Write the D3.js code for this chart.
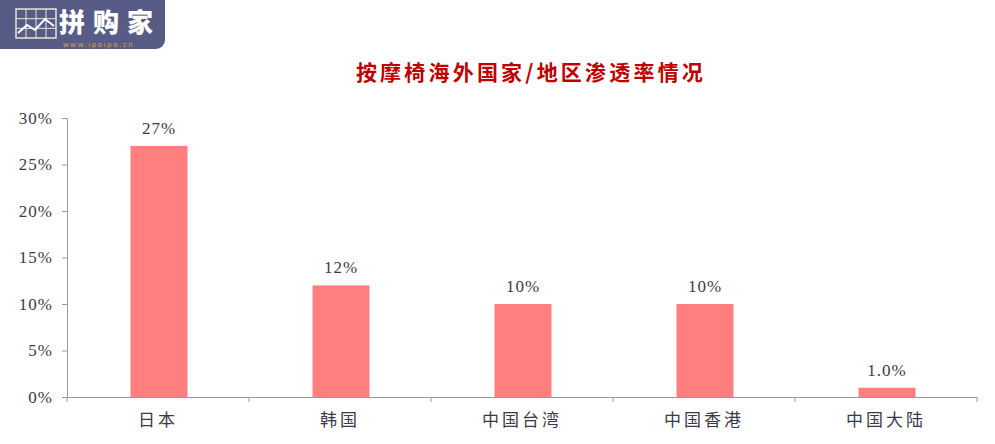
<!DOCTYPE html>
<html><head><meta charset="utf-8">
<script src="https://cdn.jsdelivr.net/npm/d3@7"></script>
<style>body{margin:0;background:#fff}svg{display:block}</style>
</head><body>
<svg id="c" width="995" height="444"></svg>
<script>
const categories = ["日本","韩国","中国台湾","中国香港","中国大陆"];
const values = [0.27, 0.12, 0.10, 0.10, 0.01];
const valueLabels = ["27%","12%","10%","10%","1.0%"];
const yTicks = [0,0.05,0.10,0.15,0.20,0.25,0.30];
const titleText = "按摩椅海外国家/地区渗透率情况";

const svg = d3.select("#c");
const W = 995, H = 444;
const m = {left: 67, right: 18, top: 118, bottom: 47};
const x = d3.scaleBand().domain(categories).range([m.left, W - m.right]).paddingInner(0).paddingOuter(0);
const y = d3.scaleLinear().domain([0, 0.30]).range([H - m.bottom, m.top]);
const serif = "'Liberation Serif','DejaVu Serif',serif";
const cjk = "'Noto Sans CJK SC','Noto Sans',sans-serif";
const textCol = "#3a3a4a";

// logo
const logo = svg.append("g");
logo.append("rect").attr("x",-10).attr("y",-10).attr("width",175).attr("height",59).attr("rx",9).attr("fill","#575c86");
const gx = 16, gy = 9, gw = 40, gh = 29;
logo.append("rect").attr("x",gx).attr("y",gy).attr("width",gw).attr("height",gh).attr("fill","none").attr("stroke","#e8e4d0").attr("stroke-width",1.5);
[1,2,3].forEach(i=>logo.append("line").attr("x1",gx+gw*i/4).attr("x2",gx+gw*i/4).attr("y1",gy).attr("y2",gy+gh).attr("stroke","#e8e4d0").attr("stroke-width",1));
[1,2].forEach(i=>logo.append("line").attr("x1",gx).attr("x2",gx+gw).attr("y1",gy+gh*i/3).attr("y2",gy+gh*i/3).attr("stroke","#e8e4d0").attr("stroke-width",1));
logo.append("polyline").attr("points",`${gx+2},${gy+24} ${gx+11},${gy+16} ${gx+19},${gy+21} ${gx+29},${gy+10} ${gx+38},${gy+17}`).attr("fill","none").attr("stroke","#fff").attr("stroke-width",2);
logo.append("text").attr("x",59).attr("y",32).attr("font-family",cjk).attr("font-weight",900).attr("font-size",26).attr("letter-spacing",8).attr("fill","#fff").text("拼购家");
logo.append("text").attr("x",63).attr("y",47).attr("font-family","'DejaVu Sans',sans-serif").attr("font-size",7).attr("letter-spacing",1.6).attr("fill","#e0a050").text("www.ipoipo.cn");

// title
svg.append("text").attr("x",531).attr("y",80).attr("text-anchor","middle")
  .attr("font-family","'Noto Sans CJK SC',sans-serif").attr("font-weight",700).attr("font-size",21)
  .attr("letter-spacing",3.2).attr("fill","#c00000").text(titleText);

// bars
const bw = 57;
svg.append("g").selectAll("rect").data(values).join("rect")
  .attr("x",(d,i)=>x(categories[i]) + x.bandwidth()/2 - bw/2 + 1)
  .attr("width",bw)
  .attr("y",d=>y(d)).attr("height",d=>y(0)-y(d)).attr("fill","#ff7f7f");

// value labels
svg.append("g").selectAll("text").data(values).join("text")
  .attr("x",(d,i)=>x(categories[i]) + x.bandwidth()/2 + 1)
  .attr("y",d=>y(d)-12).attr("text-anchor","middle")
  .attr("font-family",serif).attr("font-size",17).attr("letter-spacing",1).attr("fill",textCol)
  .text((d,i)=>valueLabels[i]);

// y axis
const ya = svg.append("g").attr("transform",`translate(${m.left},0)`)
  .call(d3.axisLeft(y).tickValues(yTicks).tickFormat(d=>Math.round(d*100)+"%").tickSize(5).tickPadding(9));
ya.select(".domain").attr("stroke","#999");
ya.selectAll(".tick line").attr("stroke","#999");
ya.selectAll("text").attr("font-family",serif).attr("font-size",17).attr("letter-spacing",1).attr("fill",textCol);

// x axis
const xa = svg.append("g").attr("transform",`translate(0,${H-m.bottom})`)
  .call(d3.axisBottom(x).tickSize(0).tickPadding(17));
xa.select(".domain").attr("stroke","#999");
xa.selectAll("text").attr("font-family",cjk).attr("font-size",17).attr("letter-spacing",3).attr("fill",textCol);
const bounds = categories.map(c=>x(c)).concat([x(categories[categories.length-1])+x.bandwidth()]);
svg.append("g").selectAll("line").data(bounds).join("line")
  .attr("x1",d=>d).attr("x2",d=>d).attr("y1",H-m.bottom).attr("y2",H-m.bottom+5).attr("stroke","#999");
</script>
</body></html>
